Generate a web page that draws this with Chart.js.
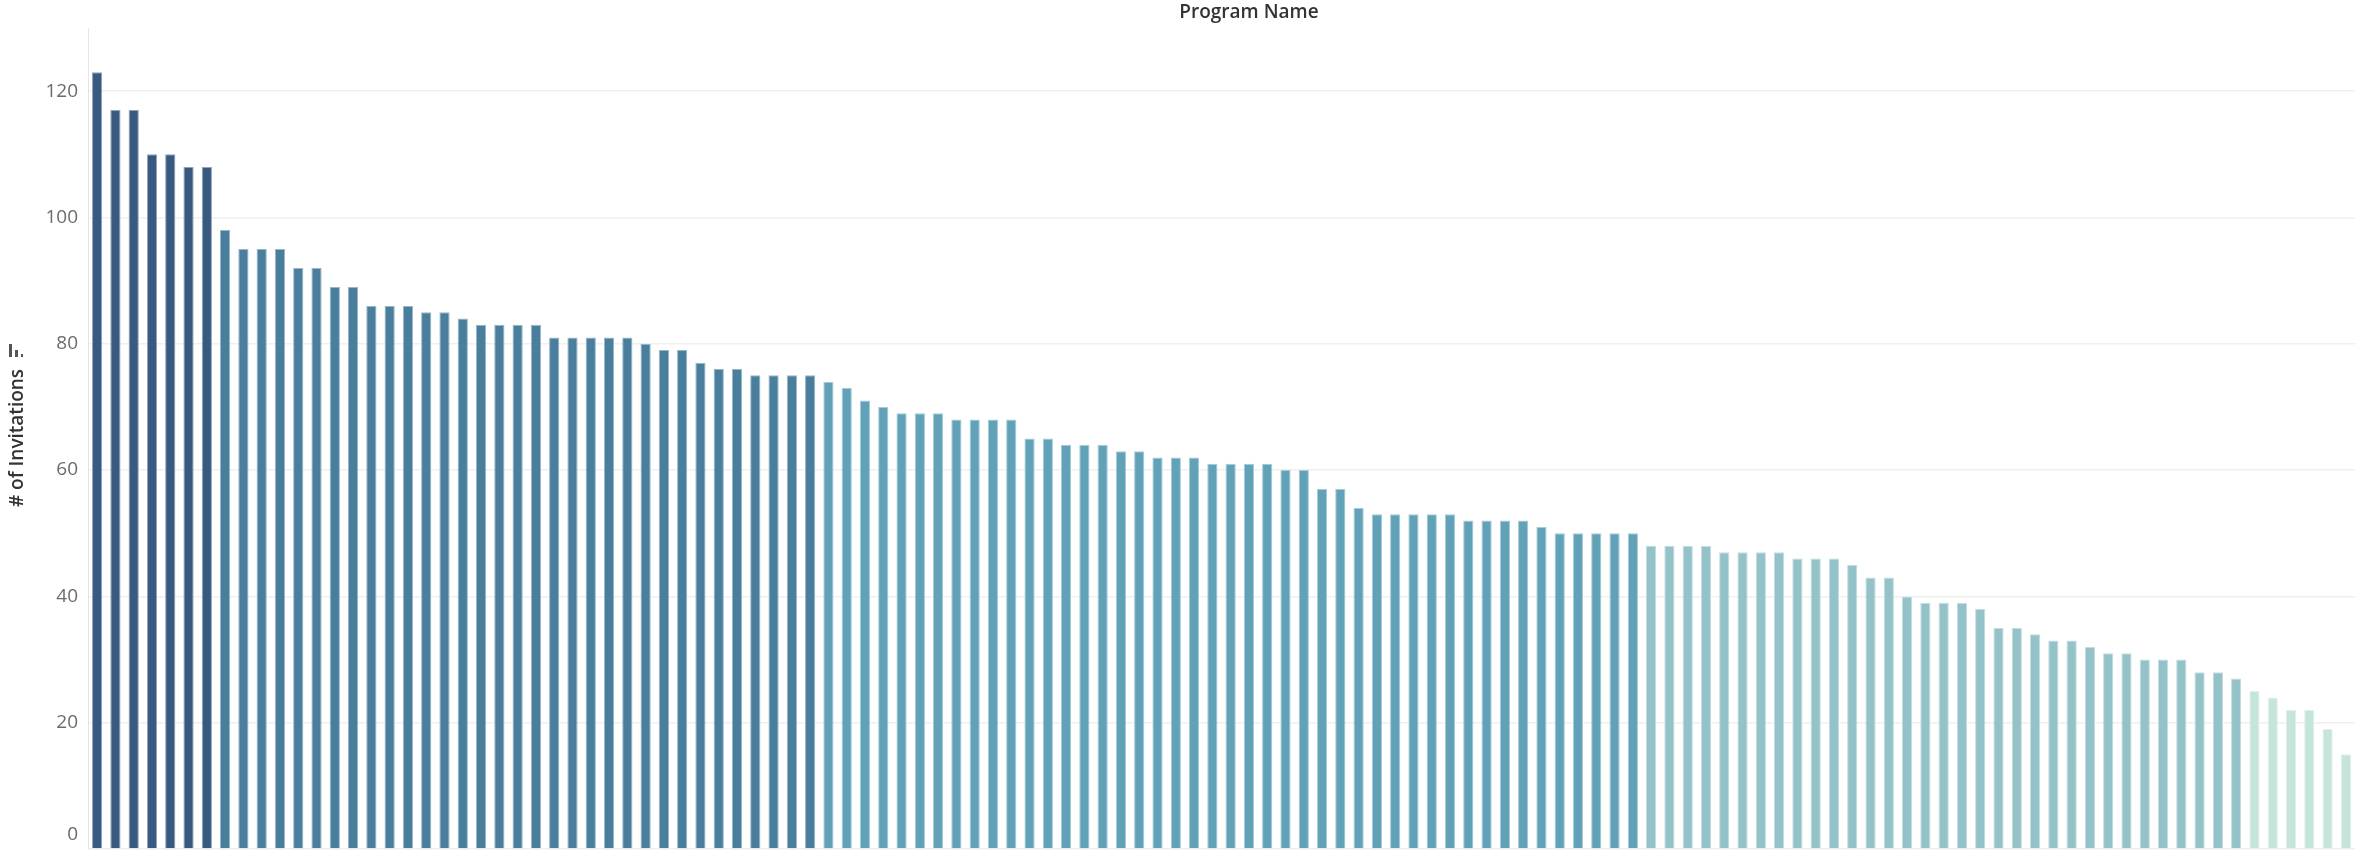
<!DOCTYPE html>
<html lang="en">
<head>
  <meta charset="UTF-8">
  <title>Invitations by Program</title>
  <script src="https://cdn.jsdelivr.net/npm/chart.js@4.4.2/dist/chart.umd.min.js"></script>
  <style>
    html, body { margin: 0; padding: 0; background: #fff; }
    .wrap { width: 2356px; height: 853px; position: relative; }
  </style>
</head>
<body>
<div class="wrap">
  <canvas id="invChart" width="2356" height="853"></canvas>
</div>
<script>
  // # of Invitations per program, sorted descending
  const invitations = [
    123, 117, 117, 110, 110, 108, 108, 98, 95, 95, 95, 92, 92, 89, 89,
    86, 86, 86, 85, 85, 84, 83, 83, 83, 83, 81, 81, 81, 81, 81, 80,
    79, 79, 77, 76, 76, 75, 75, 75, 75, 74, 73, 71, 70, 69, 69, 69,
    68, 68, 68, 68, 65, 65, 64, 64, 64, 63, 63, 62, 62, 62, 61, 61,
    61, 61, 60, 60, 57, 57, 54, 53, 53, 53, 53, 53, 52, 52, 52, 52,
    51, 50, 50, 50, 50, 50, 48, 48, 48, 48, 47, 47, 47, 47, 46, 46,
    46, 45, 43, 43, 40, 39, 39, 39, 38, 35, 35, 34, 33, 33, 32, 31,
    31, 30, 30, 30, 28, 28, 27, 25, 24, 22, 22, 19, 15
  ];
  const programs = invitations.map((v, i) => 'Program ' + (i + 1));
  const yTicks = [0, 20, 40, 60, 80, 100, 120];

  // stepped colour palette (value lower bounds -> colour)
  const stepBounds = [100, 75, 50, 26, 0];
  const stepColors = ['#385a80', '#4a7e9d', '#61a2b8', '#94c2c9', '#c5e5da'];
  const stepEdges  = ['#8fa3bb', '#98b6c8', '#a6cbd7', '#c4dde0', '#e0f1eb'];

  const tickFont = '19px "Open Sans", "Noto Sans", sans-serif';

  function stepIndex(v) {
    for (let i = 0; i < stepBounds.length; i++) {
      if (v >= stepBounds[i]) return i;
    }
    return stepBounds.length - 1;
  }

  const labelsPlugin = {
    id: 'headerLabels',
    afterDraw(chart) {
      const c = chart.ctx;
      const y = chart.scales.y;
      c.save();
      // the zero label sits a bit above its gridline (like the original)
      c.fillStyle = '#6b6b6b';
      c.font = tickFont;
      c.textAlign = 'right';
      c.textBaseline = 'middle';
      c.fillText(String(yTicks[0]), y.right - 10, y.getPixelForValue(yTicks[0]) - 14);

      c.fillStyle = '#333';
      c.font = '600 19px "Open Sans", "Noto Sans", sans-serif';
      c.textAlign = 'center';
      c.fillText('Program Name', 1249, 13);

      // rotated y-axis title
      c.translate(18, 438);
      c.rotate(-Math.PI / 2);
      c.fillText('# of Invitations', 0, 0);
      c.restore();

      // little sort icon above the axis title
      c.save();
      c.fillStyle = '#555';
      c.fillRect(9, 344, 3, 13);
      c.fillRect(15, 350, 3, 7);
      c.fillRect(21, 354, 2, 3);
      c.restore();
    }
  };

  new Chart(document.getElementById('invChart'), {
    type: 'bar',
    data: {
      labels: programs,
      datasets: [{
        label: '# of Invitations',
        data: invitations,
        backgroundColor: invitations.map(v => stepColors[stepIndex(v)]),
        borderColor: invitations.map(v => stepEdges[stepIndex(v)]),
        borderWidth: 1,
        barPercentage: 0.56,
        categoryPercentage: 1.0
      }]
    },
    options: {
      responsive: false,
      animation: false,
      layout: { padding: { top: 28, bottom: 4, left: 0, right: 1 } },
      plugins: {
        legend: { display: false },
        tooltip: { enabled: false }
      },
      scales: {
        x: {
          display: false
        },
        y: {
          min: 0,
          max: 130,
          afterBuildTicks: axis => { axis.ticks = yTicks.map(v => ({ value: v })); },
          afterFit: axis => {
            axis.width = 88;
            axis.paddingTop = 0;
            axis.paddingBottom = 0;
          },
          border: { display: true, color: '#e6e6e6', width: 1 },
          grid: { color: '#f0f0f0', lineWidth: 1.5, drawTicks: false },
          ticks: {
            padding: 10,
            color: '#6b6b6b',
            font: { family: '"Open Sans", "Noto Sans", sans-serif', size: 19 },
            callback: v => (v === yTicks[0] ? '' : v)
          }
        }
      }
    },
    plugins: [labelsPlugin]
  });
</script>
</body>
</html>
